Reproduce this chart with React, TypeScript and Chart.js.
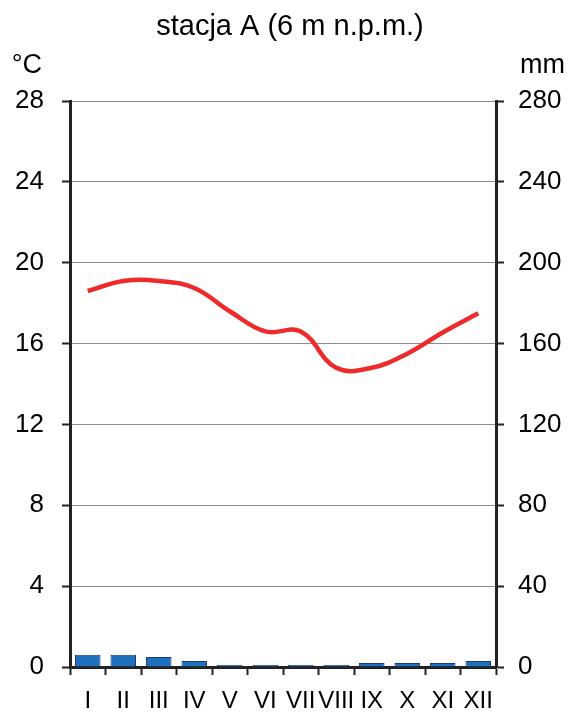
import React, { useEffect, useRef } from "react";
import { Chart, registerables } from "chart.js";

Chart.register(...registerables);

const months = ["I", "II", "III", "IV", "V", "VI", "VII", "VIII", "IX", "X", "XI", "XII"];
const temperature = [18.6, 19.1, 19.1, 18.75, 17.6, 16.6, 16.6, 14.8, 14.8, 15.5, 16.55, 17.5];
const precipitation = [6, 6, 5, 3, 1, 1, 1, 1, 2, 2, 2, 3];
const titleText = "stacja A (6 m n.p.m.)";
const leftUnit = "°C";
const rightUnit = "mm";

const FONT = "'Liberation Sans', Arial, sans-serif";

export default function App() {
  const ref = useRef<HTMLCanvasElement | null>(null);

  useEffect(() => {
    if (!ref.current) return;
    const textPlugin = {
      id: "extraText",
      afterDraw(chart: any) {
        const ctx = chart.ctx;
        ctx.save();
        ctx.fillStyle = "#000";
        ctx.textBaseline = "alphabetic";
        ctx.font = `29px ${FONT}`;
        ctx.textAlign = "center";
        ctx.fillText(titleText, 290, 35);
        ctx.font = `27px ${FONT}`;
        ctx.textAlign = "right";
        ctx.fillText(leftUnit, 42, 73);
        ctx.textAlign = "left";
        ctx.fillText(rightUnit, 520, 73);
        ctx.restore();
      },
    };

    const chart = new Chart(ref.current, {
      type: "bar",
      data: {
        labels: months,
        datasets: [
          {
            type: "line",
            label: "temp",
            data: temperature,
            yAxisID: "y",
            borderColor: "#ee2a2a",
            borderWidth: 4.5,
            pointRadius: 0,
            tension: 0.4,
            fill: false,
            order: 0,
          } as any,
          {
            type: "bar",
            label: "opad",
            data: precipitation,
            yAxisID: "y2",
            backgroundColor: "#2070c0",
            borderColor: "#1a3b6e",
            borderWidth: 1,
            categoryPercentage: 0.72,
            barPercentage: 1,
            order: 1,
          } as any,
        ],
      },
      options: {
        responsive: false,
        animation: false,
        layout: { padding: { top: 101, left: 0, right: 0, bottom: 0 } },
        plugins: {
          legend: { display: false },
          title: { display: false },
          tooltip: { enabled: false },
        },
        scales: {
          x: {
            offset: true,
            grid: {
              offset: true,
              drawOnChartArea: false,
              tickLength: 8,
              tickColor: "#222",
              tickWidth: 2,
            },
            border: { color: "#222", width: 3 },
            ticks: {
              autoSkip: false,
              maxRotation: 0,
              minRotation: 0,
              padding: 12,
              color: "#000",
              font: { family: FONT, size: 24 },
            },
            afterFit(scale: any) {
              scale.height = 46;
            },
          },
          y: {
            position: "left",
            min: 0,
            max: 28,
            ticks: {
              stepSize: 4,
              padding: 18,
              color: "#000",
              font: { family: FONT, size: 26 },
            },
            grid: {
              color: "#8c8c8c",
              lineWidth: 1,
              tickLength: 8,
              tickColor: "#222",
              tickWidth: 2,
            },
            border: { color: "#222", width: 3 },
            afterFit(scale: any) {
              scale.width = 70;
            },
          },
          y2: {
            position: "right",
            min: 0,
            max: 280,
            ticks: {
              stepSize: 40,
              padding: 14,
              color: "#000",
              font: { family: FONT, size: 26 },
            },
            grid: {
              drawOnChartArea: false,
              tickLength: 8,
              tickColor: "#222",
              tickWidth: 2,
            },
            border: { color: "#222", width: 3 },
            afterFit(scale: any) {
              scale.width = 75;
            },
          },
        },
      },
      plugins: [textPlugin],
    });
    return () => chart.destroy();
  }, []);

  return (
    <div style={{ position: "absolute", left: 0, top: 0, width: 571, height: 713, background: "#fff" }}>
      <canvas ref={ref} width={571} height={713} />
    </div>
  );
}
